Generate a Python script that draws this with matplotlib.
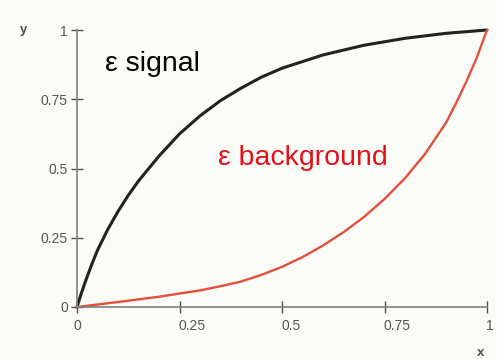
import matplotlib.pyplot as plt
from matplotlib.transforms import offset_copy

# efficiency curves, eps(x) for signal and background
sig_x = [0.0, 0.01, 0.02, 0.035, 0.05, 0.075, 0.1, 0.125, 0.15, 0.2, 0.25,
         0.3, 0.35, 0.4, 0.45, 0.5, 0.6, 0.7, 0.8, 0.9, 1.0]
sig_y = [0.0, 0.047, 0.09, 0.15, 0.205, 0.28, 0.345, 0.403, 0.455, 0.545, 0.625,
         0.69, 0.745, 0.79, 0.83, 0.862, 0.91, 0.945, 0.97, 0.988, 1.0]

bkg_x = [0.0, 0.1, 0.2, 0.3, 0.35, 0.4, 0.45, 0.5, 0.55, 0.6, 0.65, 0.7,
         0.75, 0.8, 0.85, 0.9, 0.925, 0.95, 0.975, 1.0]
bkg_y = [0.0, 0.018, 0.037, 0.06, 0.075, 0.092, 0.116, 0.145, 0.18, 0.222,
         0.27, 0.325, 0.39, 0.465, 0.555, 0.665, 0.737, 0.815, 0.9, 1.0]

ticks = [0, 0.25, 0.5, 0.75, 1]
tick_labels = ['0', '0.25', '0.5', '0.75', '1']

plt.rcParams['font.family'] = ['Liberation Sans', 'DejaVu Sans']

fig = plt.figure(figsize=(4.97, 3.59), dpi=100, facecolor='#fbfbf7')
ax = fig.add_axes([77/497, 1 - 307/359, 410/497, 277/359])
ax.set_facecolor('none')

ax.plot(sig_x, sig_y, color='#222222', lw=2.2, clip_on=False,
        solid_capstyle='round', solid_joinstyle='round')
ax.plot(bkg_x, bkg_y, color='#e2503c', lw=1.7, clip_on=False,
        solid_capstyle='round', solid_joinstyle='round')

ax.set_xlim(0, 1)
ax.set_ylim(0, 1)
for s in ['top', 'right']:
    ax.spines[s].set_visible(False)
for s in ['left', 'bottom']:
    ax.spines[s].set_color('#808080')
    ax.spines[s].set_linewidth(1.2)

ax.set_xticks(ticks)
ax.set_xticklabels(tick_labels)
ax.set_yticks(ticks)
ax.set_yticklabels(tick_labels)
ax.tick_params(axis='both', direction='inout', length=9, width=1.0,
               color='#505050', labelcolor='#555555', labelsize=10)
ax.tick_params(axis='x', pad=4)
ax.tick_params(axis='y', pad=2)
# x labels start at their tick, except the origin
for lab in ax.get_xticklabels()[1:]:
    lab.set_horizontalalignment('left')
    lab.set_transform(offset_copy(lab.get_transform(), fig=fig, x=-1, units='dots'))

ax.text(-0.13, 1.0, 'y', transform=ax.transAxes, color='#505050',
        fontsize=9.5, fontweight='bold', ha='center', va='center')
ax.text(0.985, -0.165, 'x', transform=ax.transAxes, color='#505050',
        fontsize=9.5, fontweight='bold', ha='center', va='center')

ax.text(0.068, 0.852, 'ε signal', transform=ax.transAxes, color='black',
        fontsize=20.5, va='baseline', ha='left')
ax.text(0.345, 0.513, 'ε background', transform=ax.transAxes, color='#e3121a',
        fontsize=20.5, va='baseline', ha='left')

fig.savefig('out.png', dpi=100, facecolor=fig.get_facecolor())
